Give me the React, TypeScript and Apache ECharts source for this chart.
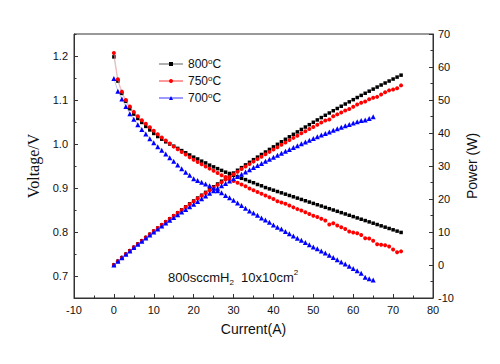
import React, { useEffect, useRef } from "react";
import * as echarts from "echarts";

// Current (A)
const currents = [
  0, 1, 2, 3, 4, 5, 6, 7, 8, 9, 10, 11, 12, 13, 14, 15, 16, 17, 18, 19, 20,
  21, 22, 23, 24, 25, 26, 27, 28, 29, 30, 31, 32, 33, 34, 35, 36, 37, 38, 39, 40,
  41, 42, 43, 44, 45, 46, 47, 48, 49, 50, 51, 52, 53, 54, 55, 56, 57, 58, 59, 60,
  61, 62, 63, 64, 65, 66, 67, 68, 69, 70, 71, 72,
];

// Voltage (V)
const voltage800 = [
  1.198, 1.143, 1.115, 1.097, 1.08, 1.068, 1.058, 1.049, 1.04, 1.032, 1.024,
  1.017, 1.011, 1.005, 1.0, 0.995, 0.99, 0.985, 0.98, 0.975, 0.97,
  0.966, 0.961, 0.957, 0.952, 0.948, 0.944, 0.94, 0.936, 0.933, 0.929,
  0.926, 0.922, 0.919, 0.915, 0.912, 0.908, 0.905, 0.901, 0.898, 0.895,
  0.892, 0.889, 0.886, 0.883, 0.88, 0.877, 0.874, 0.871, 0.868, 0.865,
  0.862, 0.859, 0.856, 0.853, 0.85, 0.847, 0.844, 0.841, 0.838, 0.835,
  0.832, 0.829, 0.826, 0.823, 0.82, 0.817, 0.814, 0.811, 0.808, 0.805,
  0.802, 0.799,
];
const voltage750 = [
  1.207, 1.147, 1.119, 1.1, 1.085, 1.073, 1.063, 1.054, 1.046, 1.038, 1.03,
  1.022, 1.015, 1.008, 1.001, 0.994, 0.988, 0.982, 0.976, 0.97, 0.964,
  0.959, 0.954, 0.949, 0.944, 0.939, 0.934, 0.929, 0.925, 0.92, 0.916,
  0.912, 0.908, 0.904, 0.899, 0.895, 0.891, 0.887, 0.883, 0.879, 0.875,
  0.87, 0.867, 0.864, 0.86, 0.856, 0.852, 0.849, 0.845, 0.841, 0.837,
  0.834, 0.83, 0.826, 0.817, 0.82, 0.815, 0.811, 0.807, 0.801, 0.799,
  0.797, 0.793, 0.786, 0.785, 0.78, 0.772, 0.771, 0.77, 0.767, 0.76,
  0.754, 0.756,
];
const voltage700 = [
  1.149, 1.12, 1.102, 1.085, 1.069, 1.056, 1.044, 1.033, 1.023, 1.012, 1.003,
  0.994, 0.986, 0.977, 0.969, 0.961, 0.952, 0.944, 0.936, 0.929, 0.921,
  0.917, 0.913, 0.909, 0.905, 0.9, 0.894, 0.889, 0.883, 0.878, 0.872,
  0.866, 0.86, 0.854, 0.848, 0.843, 0.838, 0.832, 0.827, 0.822, 0.816,
  0.811, 0.807, 0.801, 0.796, 0.791, 0.786, 0.781, 0.776, 0.771, 0.766,
  0.762, 0.757, 0.752, 0.747, 0.742, 0.737, 0.732, 0.727, 0.722, 0.717,
  0.712, 0.706, 0.697, 0.694, 0.691,
];

// Power (W)
const power800 = [
  0, 1.14, 2.23, 3.29, 4.32, 5.34, 6.35, 7.34, 8.32, 9.29, 10.24,
  11.19, 12.13, 13.07, 14.0, 14.93, 15.84, 16.75, 17.64, 18.53, 19.4,
  20.29, 21.14, 22.01, 22.85, 23.7, 24.54, 25.38, 26.21, 27.06, 27.87,
  28.71, 29.5, 30.33, 31.11, 31.92, 32.69, 33.49, 34.24, 35.02, 35.8,
  36.57, 37.34, 38.1, 38.85, 39.6, 40.34, 41.08, 41.81, 42.53, 43.25,
  43.96, 44.67, 45.37, 46.06, 46.75, 47.43, 48.11, 48.78, 49.44, 50.1,
  50.75, 51.4, 52.04, 52.67, 53.3, 53.92, 54.54, 55.15, 55.75, 56.35,
  56.94, 57.53,
];
const power750 = [
  0, 1.15, 2.24, 3.3, 4.34, 5.37, 6.38, 7.38, 8.37, 9.34, 10.3,
  11.24, 12.18, 13.1, 14.01, 14.91, 15.81, 16.69, 17.57, 18.43, 19.28,
  20.14, 20.99, 21.83, 22.66, 23.48, 24.28, 25.08, 25.9, 26.68, 27.48,
  28.27, 29.06, 29.83, 30.57, 31.33, 32.08, 32.82, 33.55, 34.28, 35.0,
  35.67, 36.41, 37.15, 37.84, 38.52, 39.19, 39.9, 40.56, 41.21, 41.85,
  42.53, 43.16, 43.78, 44.12, 45.1, 45.64, 46.23, 46.81, 47.26, 47.94,
  48.62, 49.17, 49.52, 50.24, 50.7, 50.95, 51.66, 52.36, 52.92, 53.2,
  53.53, 54.43,
];
const power700 = [
  0, 1.12, 2.2, 3.26, 4.28, 5.28, 6.26, 7.23, 8.18, 9.11, 10.03,
  10.93, 11.83, 12.7, 13.57, 14.42, 15.23, 16.05, 16.85, 17.65, 18.42,
  19.26, 20.09, 20.91, 21.72, 22.5, 23.24, 24.0, 24.72, 25.46, 26.16,
  26.85, 27.52, 28.18, 28.83, 29.51, 30.17, 30.78, 31.43, 32.06, 32.64,
  33.25, 33.89, 34.44, 35.02, 35.6, 36.16, 36.71, 37.25, 37.78, 38.3,
  38.86, 39.36, 39.86, 40.34, 40.81, 41.27, 41.72, 42.17, 42.6, 43.02,
  43.43, 43.77, 43.91, 44.42, 44.92,
];

const seriesNames = ["800°C", "750°C", "700°C"];
const voltageTicks = [0.7, 0.8, 0.9, 1.0, 1.1, 1.2];

const SANS = "'Liberation Sans', Arial, sans-serif";
const SERIF = "'Liberation Serif', 'Times New Roman', serif";

function pairs(xs: number[], ys: number[]) {
  return ys.map((y, i) => [xs[i], y]);
}

export default function App() {
  const ref = useRef<HTMLDivElement>(null);
  useEffect(() => {
    if (!ref.current) return;
    const chart = echarts.init(ref.current, null, { renderer: "svg" });
    const axisColor = "#333";
    const labelStyle = { color: "#111", fontFamily: SANS, fontSize: 11 };

    const styles = [
      { symbol: "rect", size: 3.5, color: "#000000", line: "#b0b0b0" },
      { symbol: "circle", size: 4, color: "#ff0000", line: "#ff9a9a" },
      { symbol: "triangle", size: 5, color: "#0000ff", line: "#9a9aff" },
    ];
    const vData = [
      pairs(currents, voltage800),
      pairs(currents, voltage750),
      pairs(currents, voltage700),
    ];
    const pData = [
      pairs(currents, power800),
      pairs(currents, power750),
      pairs(currents, power700),
    ];

    const series: any[] = [];
    seriesNames.forEach((name, k) => {
      const st = styles[k];
      const base = {
        type: "line",
        name,
        symbol: st.symbol,
        symbolSize: st.size,
        showAllSymbol: true,
        itemStyle: { color: st.color },
        lineStyle: { color: st.line, width: 0.6 },
        z: 2 + k,
      };
      series.push({ ...base, yAxisIndex: 0, data: vData[k] });
      series.push({ ...base, yAxisIndex: 1, data: pData[k] });
    });

    chart.setOption({
      animation: false,
      backgroundColor: "#fff",
      grid: {
        left: 74,
        right: 67,
        top: 34,
        bottom: 66,
        show: true,
        borderColor: axisColor,
        borderWidth: 1,
      },
      legend: {
        data: seriesNames,
        orient: "vertical",
        left: 153,
        top: 52,
        itemWidth: 24,
        itemHeight: 5,
        itemGap: 3,
        textStyle: {
          fontFamily: SANS,
          fontSize: 12,
          color: "#111",
          lineHeight: 14,
          rich: {
            sup: { fontFamily: SANS, fontSize: 8, verticalAlign: "top", color: "#111" },
          },
        },
        formatter: (name: string) => name.replace("°", "{sup|o}"),
      },
      xAxis: {
        type: "value",
        min: -10,
        max: 80,
        interval: 10,
        name: "Current(A)",
        nameLocation: "middle",
        nameGap: 24,
        nameTextStyle: { fontFamily: SANS, fontSize: 14, color: "#111" },
        axisLine: { onZero: false, lineStyle: { color: axisColor, width: 1 } },
        axisTick: { inside: true, length: 4, lineStyle: { color: axisColor } },
        minorTick: { show: true, splitNumber: 2, length: 2.5, lineStyle: { color: axisColor } },
        axisLabel: { ...labelStyle, margin: 6 },
        splitLine: { show: false },
      },
      yAxis: [
        {
          type: "value",
          position: "left",
          min: 0.65,
          max: 1.25,
          name: "Voltage/V",
          nameLocation: "middle",
          nameRotate: 90,
          nameGap: 30,
          nameTextStyle: { fontFamily: SERIF, fontSize: 16, color: "#111" },
          axisLine: { show: true, onZero: false, lineStyle: { color: axisColor, width: 1 } },
          axisTick: {
            show: true,
            inside: true,
            length: 4,
            customValues: voltageTicks,
            lineStyle: { color: axisColor },
          },
          axisLabel: {
            ...labelStyle,
            margin: 6,
            customValues: voltageTicks,
            formatter: (v: number) => v.toFixed(1),
          },
          splitLine: { show: false },
        },
        {
          type: "value",
          position: "right",
          min: -10,
          max: 70,
          interval: 10,
          name: "Power (W)",
          nameLocation: "middle",
          nameRotate: 90,
          nameGap: 27,
          nameTextStyle: { fontFamily: SANS, fontSize: 14, color: "#111" },
          axisLine: { show: true, onZero: false, lineStyle: { color: axisColor, width: 1 } },
          axisTick: { show: true, inside: true, length: 4, lineStyle: { color: axisColor } },
          minorTick: { show: true, splitNumber: 2, length: 2.5, lineStyle: { color: axisColor } },
          axisLabel: { ...labelStyle, margin: 5 },
          splitLine: { show: false },
        },
        {
          type: "value",
          position: "left",
          min: 0.65,
          max: 1.25,
          interval: 0.05,
          axisLine: { show: false, onZero: false },
          axisTick: { show: true, inside: true, length: 2.5, lineStyle: { color: axisColor } },
          axisLabel: { show: false },
          splitLine: { show: false },
        },
      ],
      graphic: [
        {
          type: "text",
          left: 168,
          top: 268,
          style: {
            text: "800sccmH{sub|2}  10x10cm{sup|2}",
            fontFamily: SANS,
            fontSize: 13,
            lineHeight: 18,
            fill: "#111",
            rich: {
              sub: { fontFamily: SANS, fontSize: 8, verticalAlign: "bottom", fill: "#111" },
              sup: { fontFamily: SANS, fontSize: 8, verticalAlign: "top", fill: "#111" },
            },
          },
        },
      ],
      series,
    });
    return () => chart.dispose();
  }, []);
  return (
    <div
      ref={ref}
      style={{ position: "absolute", left: 0, top: 0, width: 500, height: 364 }}
    />
  );
}
